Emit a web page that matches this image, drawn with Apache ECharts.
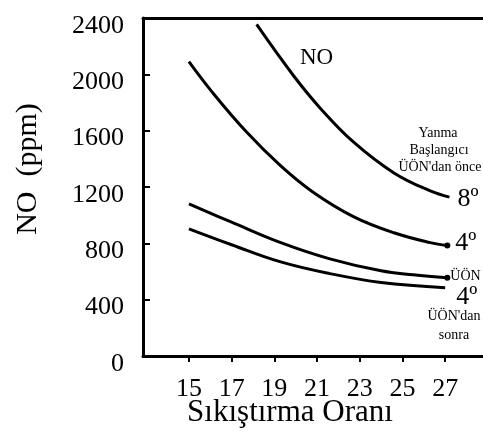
<!DOCTYPE html>
<html>
<head>
<meta charset="utf-8">
<script src="https://cdn.jsdelivr.net/npm/echarts@6/dist/echarts.min.js"></script>
<style>
html,body{margin:0;padding:0;background:#fff;}
#chart{width:483px;height:436px;}
</style>
</head>
<body>
<div id="chart"></div>
<script>
// X tick labels (compression ratio)
const xTicks = [15, 17, 19, 21, 23, 25, 27];
// Curve: combustion start 8° before TDC
const ratio8 = [18.17, 19.9, 21.15, 22.7, 24.6, 26.3, 27.2];
const no8 = [2354, 1990, 1760, 1520, 1300, 1172, 1128];
// Curve: 4° before TDC
const ratio4 = [15, 16.1, 17.7, 19.3, 20.8, 22.7, 24.6, 26.3, 27.1];
const no4 = [2090, 1872, 1590, 1350, 1165, 990, 875, 805, 785];
// Curve: at TDC
const ratioTdc = [15, 17, 19.3, 21.6, 24.0, 25.5, 27.1];
const noTdc = [1080, 950, 805, 690, 605, 577, 556];
// Curve: 4° after TDC
const ratioAfter = [15, 17, 19.3, 21.6, 24.0, 27.0];
const noAfter = [903, 790, 668, 585, 522, 485];

const endLabels = ['8º', '4º', 'ÜÖN', '4º'];

const serif = 'Liberation Serif';
const chart = echarts.init(document.getElementById('chart'));

function pairs(xs, ys) { return xs.map((x, i) => [x, ys[i]]); }

function lineSeries(xs, ys, label, labelStyle, endDot) {
  const n = xs.length;
  return {
    type: 'line',
    data: pairs(xs, ys),
    smooth: 0.4,
    showSymbol: true,
    symbol: 'circle',
    symbolSize: (v, p) => (endDot && p.dataIndex === n - 1) ? 6 : 0,
    itemStyle: { color: '#000' },
    lineStyle: { color: '#000', width: 3 },
    silent: true,
    animation: false,
    endLabel: Object.assign({
      show: true,
      formatter: label,
      color: '#000',
      fontFamily: serif,
      distance: 8
    }, labelStyle)
  };
}

const option = {
  backgroundColor: '#fff',
  animation: false,
  grid: { left: 143, top: 18, right: 0, bottom: 80, containLabel: false, outerBoundsMode: 'none' },
  xAxis: [{
    type: 'value',
    min: 12.85,
    max: 28.77,
    position: 'bottom',
    name: 'Sıkıştırma Oranı',
    nameLocation: 'middle',
    nameGap: 41,
    nameMoveOverlap: false,
    nameTextStyle: { fontFamily: serif, fontSize: 31, color: '#000', padding: [0, 46, 0, 0] },
    axisLine: { show: true, onZero: false, lineStyle: { color: '#000', width: 3 } },
    axisTick: { show: true, inside: false, length: 6, lineStyle: { color: '#000', width: 2 }, customValues: xTicks },
    axisLabel: { show: true, customValues: xTicks, fontFamily: serif, fontSize: 26, color: '#000', margin: 20 },
    splitLine: { show: false }
  }, {
    type: 'value',
    min: 12.85,
    max: 28.77,
    position: 'top',
    axisLine: { show: true, onZero: false, lineStyle: { color: '#000', width: 3 } },
    axisTick: { show: false },
    axisLabel: { show: false },
    splitLine: { show: false }
  }],
  yAxis: {
    type: 'value',
    min: 0,
    max: 2400,
    interval: 400,
    name: 'NO  (ppm)',
    nameLocation: 'middle',
    nameGap: 100,
    nameTextStyle: { fontFamily: serif, fontSize: 30, color: '#000', padding: [0, 0, 0, 36] },
    axisLine: { show: true, onZero: false, lineStyle: { color: '#000', width: 3 } },
    axisTick: { show: true, inside: true, length: 7, lineStyle: { color: '#000', width: 2 } },
    axisLabel: {
      fontFamily: serif, fontSize: 26, color: '#000', margin: 19,
      verticalAlign: 'top', lineHeight: 16,
      formatter: v => String(v)
    },
    splitLine: { show: false }
  },
  series: [
    lineSeries(ratio8, no8, endLabels[0], { fontSize: 26, offset: [0, 2] }, false),
    lineSeries(ratio4, no4, endLabels[1], { fontSize: 26, offset: [0, -2] }, true),
    lineSeries(ratioTdc, noTdc, endLabels[2], { fontSize: 14, distance: 3, offset: [0, -1] }, true),
    lineSeries(ratioAfter, noAfter, endLabels[3], { fontSize: 26, offset: [3, 9] }, false)
  ],
  graphic: [
    { type: 'text', left: 300, top: 46, style: { text: 'NO', font: '23px "Liberation Serif"', fill: '#000' } },
    { type: 'text', x: 438, y: 133, style: { text: 'Yanma', font: '14px "Liberation Serif"', fill: '#000', align: 'center', verticalAlign: 'middle' } },
    { type: 'text', x: 439, y: 150, style: { text: 'Başlangıcı', font: '14px "Liberation Serif"', fill: '#000', align: 'center', verticalAlign: 'middle' } },
    { type: 'text', x: 440, y: 167, style: { text: "ÜÖN'dan önce", font: '14px "Liberation Serif"', fill: '#000', align: 'center', verticalAlign: 'middle' } },
    { type: 'text', x: 454, y: 316, style: { text: "ÜÖN'dan", font: '14px "Liberation Serif"', fill: '#000', align: 'center', verticalAlign: 'middle' } },
    { type: 'text', x: 454, y: 335, style: { text: 'sonra', font: '14px "Liberation Serif"', fill: '#000', align: 'center', verticalAlign: 'middle' } }
  ]
};
chart.setOption(option);
</script>
</body>
</html>
